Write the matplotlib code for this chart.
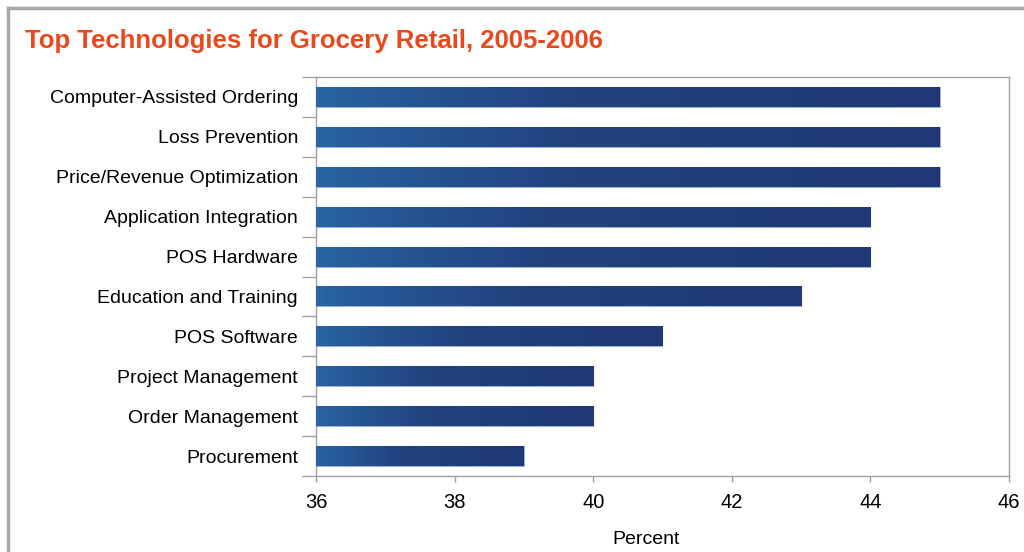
import matplotlib
matplotlib.use("Agg")
import matplotlib.pyplot as plt
import numpy as np
from matplotlib.colors import LinearSegmentedColormap
from matplotlib.lines import Line2D

# data, top to bottom as in the chart
technologies = [
    "Computer-Assisted Ordering",
    "Loss Prevention",
    "Price/Revenue Optimization",
    "Application Integration",
    "POS Hardware",
    "Education and Training",
    "POS Software",
    "Project Management",
    "Order Management",
    "Procurement",
]
percent = [45, 45, 45, 44, 44, 43, 41, 40, 40, 39]
x_ticks = [36, 38, 40, 42, 44, 46]

plt.rcParams['font.family'] = ['Liberation Sans', 'DejaVu Sans']

fig = plt.figure(figsize=(10.24, 5.52), dpi=100)
ax = fig.add_axes([316 / 1024, 1 - 476 / 552, 693 / 1024, 399 / 552])

y = np.arange(len(technologies))
bar_h = 0.5
bars = ax.barh(y, [p - 36 for p in percent], left=36, height=bar_h,
               color="#223e80", edgecolor="#9fb3d3", linewidth=0.8, zorder=2)

# left-to-right blue gradient inside each bar
cmap = LinearSegmentedColormap.from_list("bar", ["#2866a3", "#22427f", "#203878"])
grad = np.linspace(0, 1, 256).reshape(1, -1) ** 0.8
for rect, yy, val in zip(bars, y, percent):
    im = ax.imshow(grad, cmap=cmap, aspect="auto", interpolation="bilinear",
                   extent=(36, val, yy + bar_h / 2, yy - bar_h / 2), zorder=3)
    im.set_clip_path(rect)

ax.set_xlim(36, 46)
ax.set_ylim(len(technologies) - 0.5, -0.5)

ax.set_yticks(y)
ax.set_yticklabels(technologies, fontsize=14)
ax.set_yticks(np.arange(-0.5, len(technologies)), minor=True)
ax.tick_params(axis="y", which="major", length=0, pad=13)
ax.tick_params(axis="y", which="minor", length=10, color="#a0a0a0", width=1)

ax.set_xticks(x_ticks)
ax.set_xticklabels([str(t) for t in x_ticks], fontsize=14.5)
ax.tick_params(axis="x", length=4, color="#a0a0a0", width=1, pad=8)

ax.set_xlabel("Percent", fontsize=14)
ax.xaxis.set_label_coords(0.476, -0.138)

for s in ax.spines.values():
    s.set_color("#a0a0a0")
    s.set_linewidth(1)

fig.text(25 / 1024, 1 - 41 / 552, "Top Technologies for Grocery Retail, 2005-2006",
         color="#e8481c", fontsize=18.5, fontweight="bold", va="center", ha="left")

# outer gray frame (only left and top edges visible)
fig.add_artist(Line2D([8 / 1024, 8 / 1024], [0, 1 - 8 / 552], color="#a8a8a8",
                      linewidth=2.5, transform=fig.transFigure))
fig.add_artist(Line2D([8 / 1024, 1], [1 - 8 / 552, 1 - 8 / 552], color="#a8a8a8",
                      linewidth=2.5, transform=fig.transFigure))

fig.savefig("out.png", dpi=100)
